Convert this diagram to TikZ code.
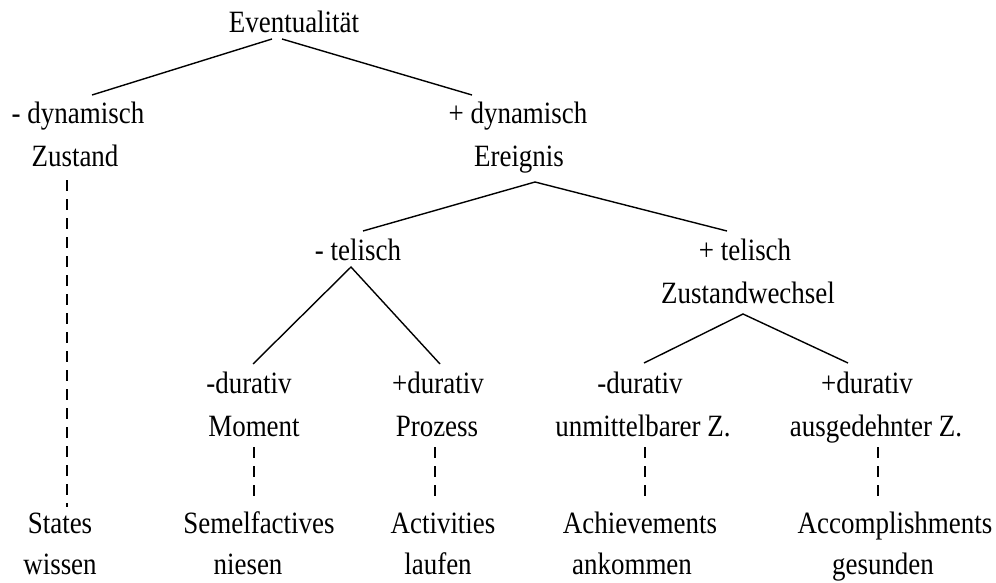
\documentclass[tikz,border=0pt]{standalone}
\usepackage{fontspec}
\setmainfont[FakeStretch=0.87]{Liberation Serif}
\begin{document}
\begin{tikzpicture}[x=1pt,y=-1pt,
  lab/.style={inner sep=0pt, anchor=base, font=\fontsize{31}{32}\selectfont},
  edge/.style={line width=1.4pt},
  dashedge/.style={line width=1.4pt, dash pattern=on 11pt off 8pt}]
\useasboundingbox (0,0) rectangle (996,583);
% texts
\node[lab] (ev) at (294,33) {Eventualität};
\node[lab] (dmin) at (78,124) {- dynamisch};
\node[lab] (dplus) at (518,124) {+ dynamisch};
\node[lab] (zust) at (75,167) {Zustand};
\node[lab] (ereig) at (519,167) {Ereignis};
\node[lab] (tmin) at (358,260) {- telisch};
\node[lab] (tplus) at (745,260) {+ telisch};
\node[lab] (zw) at (748,303) {Zustandwechsel};
\node[lab] (d1) at (249,393) {-durativ};
\node[lab] (d2) at (438,393) {+durativ};
\node[lab] (d3) at (640,393) {-durativ};
\node[lab] (d4) at (867,393) {+durativ};
\node[lab] (mom) at (254,436) {Moment};
\node[lab] (proz) at (437,436) {Prozess};
\node[lab] (unm) at (643,436) {unmittelbarer Z.};
\node[lab] (ausg) at (876,436) {ausgedehnter Z.};
\node[lab] (st) at (60,533) {States};
\node[lab] (sem) at (259,533) {Semelfactives};
\node[lab] (act) at (443,533) {Activities};
\node[lab] (ach) at (640,533) {Achievements};
\node[lab] (acc) at (895,533) {Accomplishments};
\node[lab] (wis) at (60,574) {wissen};
\node[lab] (nie) at (248,574) {niesen};
\node[lab] (lau) at (438,574) {laufen};
\node[lab] (ank) at (632,574) {ankommen};
\node[lab] (ges) at (883,574) {gesunden};
% connector end points
\coordinate (evL) at (272,39);
\coordinate (evR) at (282,39);
\coordinate (dminT) at (92,95);
\coordinate (dplusT) at (472,95);
\coordinate (ereigB) at (535,182);
\coordinate (tminT) at (363,231);
\coordinate (tplusT) at (727,231);
\coordinate (tminB) at (351,267);
\coordinate (d1T) at (253,364);
\coordinate (d2T) at (440,364);
\coordinate (zwB) at (743,314);
\coordinate (d3T) at (644,363);
\coordinate (d4T) at (848,363);
\coordinate (zustB) at (67,180);
\coordinate (stT) at (67,507);
\coordinate (momB) at (254,447);
\coordinate (semT) at (254,497);
\coordinate (prozB) at (435,447);
\coordinate (actT) at (435,497);
\coordinate (unmB) at (645,447);
\coordinate (achT) at (645,497);
\coordinate (ausgB) at (878,447);
\coordinate (accT) at (878,497);
% solid connectors
\draw[edge] (evL) -- (dminT);
\draw[edge] (evR) -- (dplusT);
\draw[edge] (tminT) -- (ereigB) -- (tplusT);
\draw[edge] (d1T) -- (tminB) -- (d2T);
\draw[edge] (d3T) -- (zwB) -- (d4T);
% dashed connectors
\draw[dashedge] (zustB) -- (stT);
\draw[dashedge] (momB) -- (semT);
\draw[dashedge] (prozB) -- (actT);
\draw[dashedge] (unmB) -- (achT);
\draw[dashedge] (ausgB) -- (accT);
\end{tikzpicture}
\end{document}
